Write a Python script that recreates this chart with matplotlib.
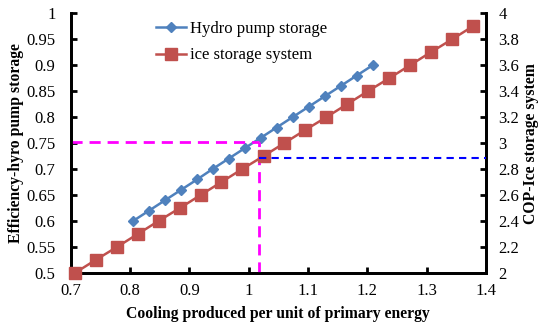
import matplotlib.pyplot as plt

plt.rcParams['font.family'] = ['Liberation Serif', 'DejaVu Serif']

# hydro pump storage (left axis)
hydro_x = [0.805, 0.832, 0.859, 0.886, 0.913, 0.939, 0.966, 0.993,
           1.020, 1.047, 1.074, 1.101, 1.128, 1.155, 1.182, 1.209]
hydro_y = [0.60, 0.62, 0.64, 0.66, 0.68, 0.70, 0.72, 0.74,
           0.76, 0.78, 0.80, 0.82, 0.84, 0.86, 0.88, 0.90]

# ice storage system (right axis)
ice_x = [0.707, 0.742, 0.778, 0.813, 0.848, 0.884, 0.919, 0.954, 0.989, 1.025,
         1.060, 1.095, 1.131, 1.166, 1.201, 1.237, 1.272, 1.307, 1.343, 1.378]
ice_y = [2.0, 2.1, 2.2, 2.3, 2.4, 2.5, 2.6, 2.7, 2.8, 2.9,
         3.0, 3.1, 3.2, 3.3, 3.4, 3.5, 3.6, 3.7, 3.8, 3.9]

# guide lines
mag_x = 1.017
mag_y = 0.753
blue_y = 2.888

x_ticks = [0.7, 0.8, 0.9, 1.0, 1.1, 1.2, 1.3, 1.4]
x_labels = ['0.7', '0.8', '0.9', '1', '1.1', '1.2', '1.3', '1.4']
left_ticks = [0.5, 0.55, 0.6, 0.65, 0.7, 0.75, 0.8, 0.85, 0.9, 0.95, 1.0]
left_labels = ['0.5', '0.55', '0.6', '0.65', '0.7', '0.75', '0.8', '0.85', '0.9', '0.95', '1']
right_ticks = [2.0, 2.2, 2.4, 2.6, 2.8, 3.0, 3.2, 3.4, 3.6, 3.8, 4.0]
right_labels = ['2', '2.2', '2.4', '2.6', '2.8', '3', '3.2', '3.4', '3.6', '3.8', '4']

fig = plt.figure(figsize=(5.41, 3.26), dpi=100)
ax1 = fig.add_axes([0.131, 0.163, 0.767, 0.796])
ax2 = ax1.twinx()

blue = '#4F81BD'
red = '#C0504D'

l1, = ax1.plot(hydro_x, hydro_y, color=blue, lw=1.8, marker='D', ms=5.5,
               label='Hydro pump storage', clip_on=False, zorder=3)
l2, = ax2.plot(ice_x, ice_y, color=red, lw=1.8, marker='s', ms=8.5,
               label='ice storage system', clip_on=False, zorder=3)

ax1.plot([0.7, mag_x], [mag_y, mag_y], color='#FF00FF', lw=2, ls=(0, (4, 2.5)), zorder=4)
ax1.plot([mag_x, mag_x], [0.5, mag_y], color='#FF00FF', lw=2, ls=(0, (4, 2.5)), zorder=4)
ax2.plot([mag_x, 1.4], [blue_y, blue_y], color='#0000FF', lw=1.5, ls=(0, (3.5, 2.5)), zorder=4)

ax1.set_xlim(0.7, 1.4)
ax1.set_ylim(0.5, 1.0)
ax2.set_ylim(2.0, 4.0)

ax1.set_xticks(x_ticks, x_labels)
ax1.set_yticks(left_ticks, left_labels)
ax2.set_yticks(right_ticks, right_labels)

for ax in (ax1, ax2):
    ax.spines['top'].set_visible(False)
    for s in ('left', 'right', 'bottom'):
        ax.spines[s].set_linewidth(2)
    ax.tick_params(direction='in', width=2, length=4, labelsize=12)
ax1.tick_params(axis='x', pad=7)
ax1.tick_params(axis='y', pad=11)
ax2.tick_params(axis='y', pad=9)

ax1.set_xlabel('Cooling produced per unit of primary energy', fontsize=11.3, fontweight='bold', labelpad=5)
ax1.set_ylabel('Efficiency-hyro pump storage', fontsize=11.3, fontweight='bold', labelpad=2)
ax2.set_ylabel('COP-Ice storage system', fontsize=11.3, fontweight='bold', labelpad=3)

ax1.legend(handles=[l1, l2], loc='upper left', bbox_to_anchor=(0.17, 1.03),
           frameon=False, fontsize=12, handlelength=1.8, handletextpad=0.2,
           labelspacing=0.65)

fig.savefig('out.png', dpi=100)
